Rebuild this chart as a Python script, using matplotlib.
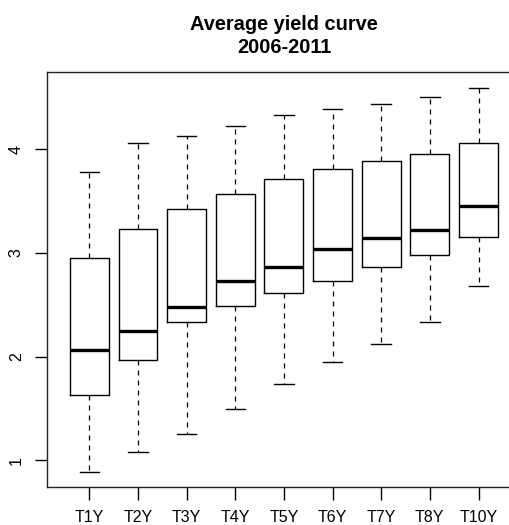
import matplotlib
matplotlib.use("Agg")
import matplotlib.pyplot as plt

# maturities and box statistics
labels = ["T1Y", "T2Y", "T3Y", "T4Y", "T5Y", "T6Y", "T7Y", "T8Y", "T10Y"]
whislo = [0.89, 1.08, 1.25, 1.49, 1.74, 1.95, 2.12, 2.33, 2.68]
q1 = [1.63, 1.97, 2.33, 2.49, 2.61, 2.73, 2.86, 2.98, 3.15]
med = [2.06, 2.25, 2.48, 2.73, 2.86, 3.04, 3.14, 3.22, 3.45]
q3 = [2.95, 3.23, 3.42, 3.57, 3.71, 3.81, 3.89, 3.95, 4.06]
whishi = [3.78, 4.06, 4.13, 4.22, 4.33, 4.39, 4.44, 4.50, 4.59]

plt.rcParams["font.family"] = ["Liberation Sans", "DejaVu Sans"]

stats = []
for i in range(len(labels)):
    stats.append({"label": labels[i], "whislo": whislo[i], "q1": q1[i],
                  "med": med[i], "q3": q3[i], "whishi": whishi[i], "fliers": []})

fig = plt.figure(figsize=(5.1, 5.25), dpi=100)
# plot region runs past the right edge of the image, like the original
ax = fig.add_axes([0.0931, 0.073, 0.9272, 0.790])

ax.bxp(stats, positions=range(1, len(labels) + 1), widths=0.8, capwidths=0.4,
       boxprops=dict(color="black", linewidth=1.0),
       medianprops=dict(color="black", linewidth=2.4, solid_capstyle="butt"),
       whiskerprops=dict(color="black", linewidth=0.9, linestyle=(0, (4, 4))),
       capprops=dict(color="black", linewidth=1.0))

ax.set_xlim(0.14, 9.86)
ax.set_ylim(0.745, 4.745)
ax.set_yticks([1, 2, 3, 4])
ax.set_yticklabels(["1", "2", "3", "4"], rotation=90, va="center")
ax.tick_params(axis="both", direction="out", length=9, width=1.0, labelsize=11.5,
               colors="black")
ax.tick_params(axis="x", pad=7.5)
ax.tick_params(axis="y", pad=8)
for s in ax.spines.values():
    s.set_linewidth(1.0)
    s.set_color("#222222")
ax.spines["right"].set_visible(False)

ax.set_title("Average yield curve\n2006-2011", fontsize=14.4, fontweight="bold",
             pad=13.7, linespacing=1.25)

fig.savefig("out.png", dpi=100)
